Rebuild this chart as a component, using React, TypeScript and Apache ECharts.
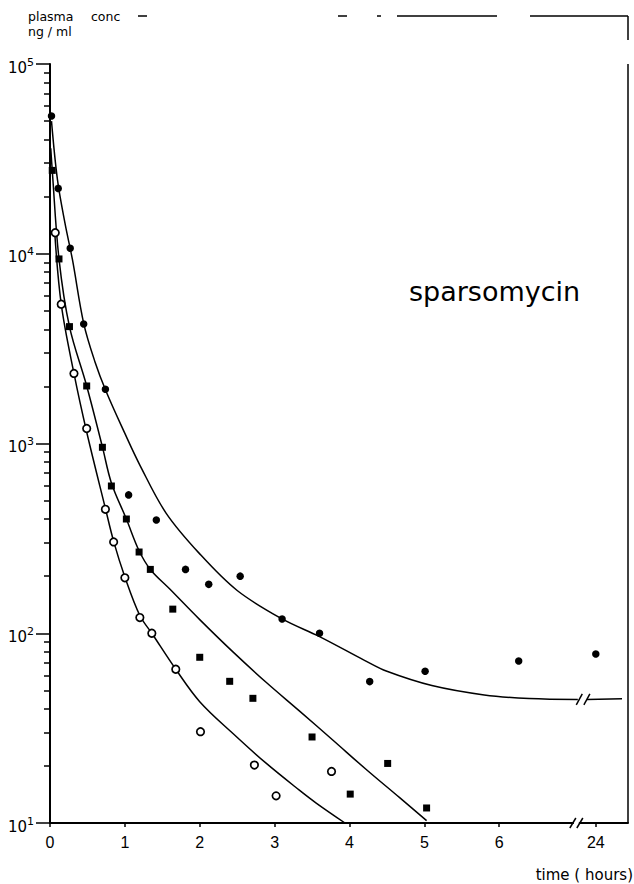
import React, { useEffect, useRef } from "react";
import * as echarts from "echarts";

// ---- data (time in hours, concentration in ng/ml) ----
const FILLED_CIRCLE_HOURS = [0.02, 0.11, 0.27, 0.45, 0.74, 1.05, 1.42, 1.81, 2.12, 2.54, 3.1, 3.6, 4.27, 5.01, 6.26, 24];
const FILLED_CIRCLE_CONC = [53200, 22100, 10700, 4260, 1930, 536, 395, 217, 181, 200, 119, 100, 55.6, 63, 71.4, 77.8];

const FILLED_SQUARE_HOURS = [0.03, 0.12, 0.26, 0.49, 0.7, 0.82, 1.02, 1.19, 1.34, 1.64, 2.0, 2.4, 2.71, 3.5, 4.01, 4.51, 5.03];
const FILLED_SQUARE_CONC = [27500, 9390, 4130, 2010, 955, 597, 400, 268, 217, 134, 74.7, 55.8, 45.4, 28.4, 14.2, 20.6, 12.0];

const OPEN_CIRCLE_HOURS = [0.07, 0.15, 0.32, 0.49, 0.74, 0.85, 1.0, 1.2, 1.36, 1.68, 2.01, 2.73, 3.02, 3.76];
const OPEN_CIRCLE_CONC = [12900, 5420, 2340, 1200, 450, 303, 196, 121, 100, 64.6, 30.3, 20.2, 13.9, 18.7];

// fitted curves
const CURVE_A_HOURS = [0.02, 0.1, 0.2, 0.3, 0.45, 0.6, 0.75, 1.0, 1.2, 1.55, 2.0, 2.5, 3.1, 3.6, 4.2, 4.5, 5.1, 5.8, 6.4, 7.05];
const CURVE_A_CONC = [50000, 24500, 14500, 9300, 4300, 2700, 1880, 1130, 770, 430, 262, 168, 119, 96, 72, 63, 53, 47.3, 45.3, 44.8];
const CURVE_A_TAIL_HOURS = [23.52, 25.4];
const CURVE_A_TAIL_CONC = [44.8, 45.2];

const CURVE_B_HOURS = [0.01, 0.03, 0.12, 0.26, 0.49, 0.7, 0.82, 1.02, 1.19, 1.34, 1.6, 2.0, 2.44, 2.89, 3.33, 3.78, 4.22, 4.67, 5.03];
const CURVE_B_CONC = [36000, 27500, 9400, 4130, 2010, 960, 620, 400, 272, 217, 171, 118, 80, 55, 39, 27.3, 19.2, 13.6, 10.3];

const CURVE_C_HOURS = [0.06, 0.15, 0.32, 0.49, 0.74, 0.85, 1.0, 1.2, 1.36, 1.68, 2.0, 2.44, 2.89, 3.33, 3.56, 3.94];
const CURVE_C_CONC = [13500, 5420, 2340, 1150, 455, 305, 198, 124, 100, 64.6, 43.6, 29.7, 20.6, 14.9, 12.7, 10.0];

const X_TICK_HOURS = [0, 1, 2, 3, 4, 5, 6, 24];
const Y_MAJOR = [10, 100, 1000, 10000, 100000];
const Y_MINOR_MANTISSA = [2, 3, 4, 5, 6, 7, 8, 9];
const TITLE = "sparsomycin";

// broken time axis: 0-7 h linear, then the 24 h region
const BREAK_AT = 7.1;
const AXIS_24 = 7.29;
const AXIS_MAX = 7.72;
const toAxis = (h: number) => (h <= BREAK_AT ? h : AXIS_24 + (h - 24) * 0.25);

const Y_MINOR: number[] = [];
Y_MAJOR.slice(0, 4).forEach((p) => Y_MINOR_MANTISSA.forEach((m) => Y_MINOR.push(m * p)));

const pairs = (hs: number[], cs: number[]) => hs.map((h, i) => [toAxis(h), cs[i]]);

export default function App() {
  const ref = useRef<HTMLDivElement>(null);
  useEffect(() => {
    if (!ref.current) return;
    const chart = echarts.init(ref.current, null, { renderer: "svg" });
    const black = "#000";
    const curve = (hs: number[], cs: number[]) => ({
      type: "line",
      data: pairs(hs, cs),
      symbol: "none",
      smooth: 0.35,
      lineStyle: { color: black, width: 1.5 },
      z: 2,
      silent: true,
    });
    const dots = (hs: number[], cs: number[], symbol: string, open: boolean, size: number) => ({
      type: "scatter",
      data: pairs(hs, cs),
      symbol,
      symbolSize: size,
      itemStyle: open
        ? { color: "#fff", borderColor: black, borderWidth: 1.7, opacity: 1 }
        : { color: black, opacity: 1 },
      z: 5,
      silent: true,
    });
    const option: any = {
      animation: false,
      grid: { left: 50, top: 64, right: 6, bottom: 61 },
      xAxis: {
        type: "value",
        min: 0,
        max: AXIS_MAX,
        axisLine: { show: true, lineStyle: { color: black, width: 2 } },
        axisTick: {
          show: true,
          customValues: X_TICK_HOURS.map(toAxis),
          length: 4,
          lineStyle: { color: black, width: 1.5 },
        },
        axisLabel: {
          customValues: X_TICK_HOURS.map(toAxis),
          margin: 11,
          color: black,
          fontFamily: "Liberation Sans",
          fontSize: 16,
          formatter: (v: number) => (v > BREAK_AT ? "24" : String(Math.round(v))),
        },
        splitLine: { show: false },
      },
      yAxis: [
        {
          type: "log",
          logBase: 10,
          min: 10,
          max: 100000,
          position: "left",
          axisLine: { show: true, lineStyle: { color: black, width: 2 } },
          axisTick: { show: true, customValues: Y_MINOR, length: 6, lineStyle: { color: black, width: 1.5 } },
          axisLabel: { show: false },
          splitLine: { show: false },
        },
        {
          type: "log",
          logBase: 10,
          min: 10,
          max: 100000,
          position: "left",
          offset: 0,
          axisLine: { show: false },
          axisTick: { show: true, length: 14, lineStyle: { color: black, width: 1.5 } },
          axisLabel: {
            margin: 16,
            formatter: (v: number) => `{b|10}{s|${Math.round(Math.log10(v))}}`,
            rich: {
              b: { fontFamily: "DejaVu Sans", fontSize: 15, color: black, lineHeight: 15, padding: [7, 0, 0, 0] },
              s: { fontFamily: "DejaVu Sans", fontSize: 11, color: black, lineHeight: 11, verticalAlign: "top" },
            },
          },
          splitLine: { show: false },
        },
      ],
      series: [
        curve(CURVE_A_HOURS, CURVE_A_CONC),
        curve(CURVE_A_TAIL_HOURS, CURVE_A_TAIL_CONC),
        curve(CURVE_B_HOURS, CURVE_B_CONC),
        curve(CURVE_C_HOURS, CURVE_C_CONC),
        dots(FILLED_CIRCLE_HOURS, FILLED_CIRCLE_CONC, "circle", false, 7.5),
        dots(FILLED_SQUARE_HOURS, FILLED_SQUARE_CONC, "rect", false, 7),
        dots(OPEN_CIRCLE_HOURS, OPEN_CIRCLE_CONC, "circle", true, 7.5),
      ],
    };
    chart.setOption(option);

    // break marks positioned via the chart's own scales
    const axisBreak = chart.convertToPixel({ xAxisIndex: 0, yAxisIndex: 0 }, [7.03, 10]) as number[];
    const curveBreak = chart.convertToPixel({ xAxisIndex: 0, yAxisIndex: 0 }, [7.12, 44.8]) as number[];
    const slashes = (cx: number, cy: number, dx: number, h: number, gapW: number) => [
      { type: "rect", shape: { x: cx - gapW / 2, y: cy - 3, width: gapW, height: 6 }, style: { fill: "#fff" }, z: 20 },
      { type: "line", shape: { x1: cx - dx - 3, y1: cy + h / 2, x2: cx - dx + 3, y2: cy - h / 2 }, style: { stroke: black, lineWidth: 1.5 }, z: 21 },
      { type: "line", shape: { x1: cx + dx - 3, y1: cy + h / 2, x2: cx + dx + 3, y2: cy - h / 2 }, style: { stroke: black, lineWidth: 1.5 }, z: 21 },
    ];
    const seg = (x1: number, y1: number, x2: number, y2: number) => ({
      type: "line",
      shape: { x1, y1, x2, y2 },
      style: { stroke: black, lineWidth: 1.5 },
      z: 10,
    });
    const txt = (text: string, x: number, y: number, size: number, align = "left") => ({
      type: "text",
      x,
      y,
      style: { text, fill: black, font: `${size}px "DejaVu Sans"`, textAlign: align, textVerticalAlign: "middle" },
      z: 10,
    });
    chart.setOption({
      graphic: [
        ...slashes(axisBreak[0], axisBreak[1], 3.5, 10, 5),
        ...slashes(curveBreak[0], curveBreak[1], 3.8, 11, 6),
        // frame (top and right edges)
        seg(138, 16, 147, 16),
        seg(338, 16, 347, 16),
        seg(377, 16, 381, 16),
        seg(397, 16, 497, 16),
        seg(530, 16, 628, 16),
        seg(628, 16, 628, 40),
        seg(628, 64, 628, 823),
        txt("plasma", 28, 16.5, 12.5),
        txt("conc", 91, 16.5, 12.5),
        txt("ng / ml", 28, 31.5, 12.5),
        txt(TITLE, 409, 291, 27),
        txt("time ( hours)", 633, 875, 15, "right"),
      ],
    });
    return () => chart.dispose();
  }, []);
  return <div ref={ref} style={{ position: "absolute", left: 0, top: 0, width: 634, height: 884 }} />;
}
